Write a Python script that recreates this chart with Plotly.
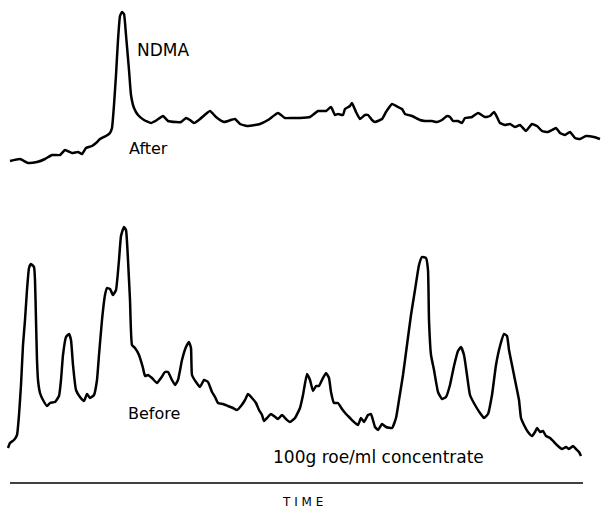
import plotly.graph_objects as go

# Chromatogram traces (time in arbitrary units, detector signal in arbitrary units)
after_time = [10, 20, 28, 37, 45, 52, 60, 65, 72, 78, 82, 86, 92, 96, 100, 106, 110, 112, 114, 116,
              118, 120, 122, 124, 126, 129, 131, 134, 138, 144, 151, 157, 163, 168, 176, 181, 186, 190,
              194, 200, 210, 216, 224, 235, 240, 247, 255, 260, 268, 278, 285, 292, 300, 310, 318, 326,
              331, 335, 338, 343, 345, 350, 352, 356, 360, 365, 368, 372, 375, 382, 386, 392, 398, 402,
              405, 412, 420, 425, 432, 437, 442, 447, 450, 453, 458, 462, 465, 472, 478, 485, 490, 494,
              497, 500, 505, 510, 515, 520, 526, 532, 537, 542, 548, 552, 556, 560, 565, 570, 575, 580,
              586, 594, 600]
after_signal = [349, 351, 347, 348, 351, 355, 355, 360, 357, 358, 356, 362, 364, 367, 371, 374, 377, 382,
                405, 435, 470, 494, 498, 496, 475, 440, 415, 402, 395, 390, 387, 390, 394, 389, 388, 388,
                392, 390, 387, 391, 399, 393, 388, 391, 386, 384, 385, 386, 390, 397, 392, 392, 392, 393,
                399, 399, 403, 395, 396, 395, 401, 404, 407, 398, 391, 395, 395, 390, 388, 391, 398, 406,
                403, 401, 396, 394, 390, 389, 389, 388, 390, 394, 393, 389, 389, 387, 392, 393, 397, 393,
                394, 398, 393, 387, 385, 386, 383, 385, 379, 386, 384, 379, 378, 380, 382, 377, 375, 378,
                372, 371, 374, 373, 371]

before_time = [8, 10, 14, 17, 19, 21, 23, 25, 27, 29, 31, 34, 35, 36, 37, 38, 40, 43, 47, 50, 55, 59, 61,
               63, 66, 69, 71, 73, 76, 80, 84, 87, 90, 94, 97, 99, 102, 105, 107, 110, 113, 116, 119, 121,
               124, 126, 128, 130, 132, 135, 139, 143, 145, 148, 152, 157, 161, 165, 168, 172, 175, 178,
               182, 186, 189, 191, 192, 196, 200, 204, 208, 212, 215, 218, 223, 228, 233, 237, 241, 245,
               248, 252, 256, 259, 262, 264, 267, 271, 274, 278, 282, 286, 290, 295, 300, 303, 307, 310,
               313, 316, 319, 322, 326, 329, 331, 334, 338, 342, 346, 350, 354, 358, 361, 364, 368, 371,
               375, 378, 382, 386, 392, 396, 399, 403, 407, 411, 415, 419, 422, 426, 428, 429, 431, 434,
               438, 442, 446, 450, 454, 458, 461, 464, 467, 470, 475, 480, 484, 488, 492, 496, 500, 504,
               507, 509, 512, 515, 519, 521, 524, 528, 532, 535, 537, 540, 543, 546, 550, 554, 558, 562,
               566, 569, 573, 576, 579, 581]
before_signal = [62, 67, 70, 75, 95, 125, 165, 190, 220, 242, 246, 243, 230, 190, 150, 130, 117, 110, 104,
                 107, 108, 114, 130, 155, 173, 176, 170, 145, 120, 113, 109, 116, 112, 115, 130, 155, 190,
                 215, 222, 221, 215, 220, 250, 274, 283, 280, 250, 210, 165, 162, 155, 142, 134, 135, 132,
                 127, 132, 138, 138, 130, 125, 130, 150, 163, 168, 162, 135, 128, 123, 130, 128, 118, 113,
                 107, 106, 104, 102, 100, 104, 110, 116, 112, 107, 100, 95, 89, 92, 96, 94, 91, 95, 91, 88,
                 92, 102, 115, 136, 130, 119, 124, 124, 130, 137, 132, 118, 107, 107, 101, 96, 92, 88, 85,
                 92, 88, 95, 96, 83, 80, 86, 83, 82, 92, 110, 135, 165, 195, 220, 245, 253, 252, 240, 190,
                 155, 140, 118, 111, 113, 125, 144, 159, 163, 155, 135, 115, 105, 97, 92, 96, 115, 145, 164,
                 176, 174, 160, 145, 130, 110, 92, 85, 78, 74, 78, 82, 78, 79, 74, 72, 68, 64, 61, 63, 61,
                 64, 61, 58, 54]

axis_start, axis_end = 10, 583

fig = go.Figure()
line_style = dict(color="black", width=2.5, shape="spline", smoothing=0.4)
fig.add_trace(go.Scatter(x=after_time, y=after_signal, mode="lines", line=line_style,
                         name="After", showlegend=False, hoverinfo="skip"))
fig.add_trace(go.Scatter(x=before_time, y=before_signal, mode="lines", line=line_style,
                         name="Before", showlegend=False, hoverinfo="skip"))

font_main = "DejaVu Sans, sans-serif"
ann = [
    dict(text="NDMA", x=163, y=460, size=17),
    dict(text="After", x=148, y=362, size=16),
    dict(text="Before", x=154, y=97, size=16),
    dict(text="100g roe/ml concentrate", x=378, y=53, size=17),
    dict(text="T I M E", x=302, y=8, size=12),
]
for a in ann:
    fig.add_annotation(text=a["text"], x=a["x"], y=a["y"], xref="x", yref="y", showarrow=False,
                       font=dict(family=font_main, size=a["size"], color="black"))

fig.add_shape(type="line", x0=axis_start, x1=axis_end, y0=27, y1=27, xref="x", yref="y",
              line=dict(color="black", width=1.6))

fig.update_layout(
    width=602, height=510,
    margin=dict(l=0, r=0, t=0, b=0),
    paper_bgcolor="white", plot_bgcolor="white",
    xaxis=dict(range=[0, 602], visible=False, fixedrange=True),
    yaxis=dict(range=[0, 510], visible=False, fixedrange=True),
)

fig.write_html("out.html", config={"displayModeBar": False},
               post_script="document.body.style.margin='0';")
